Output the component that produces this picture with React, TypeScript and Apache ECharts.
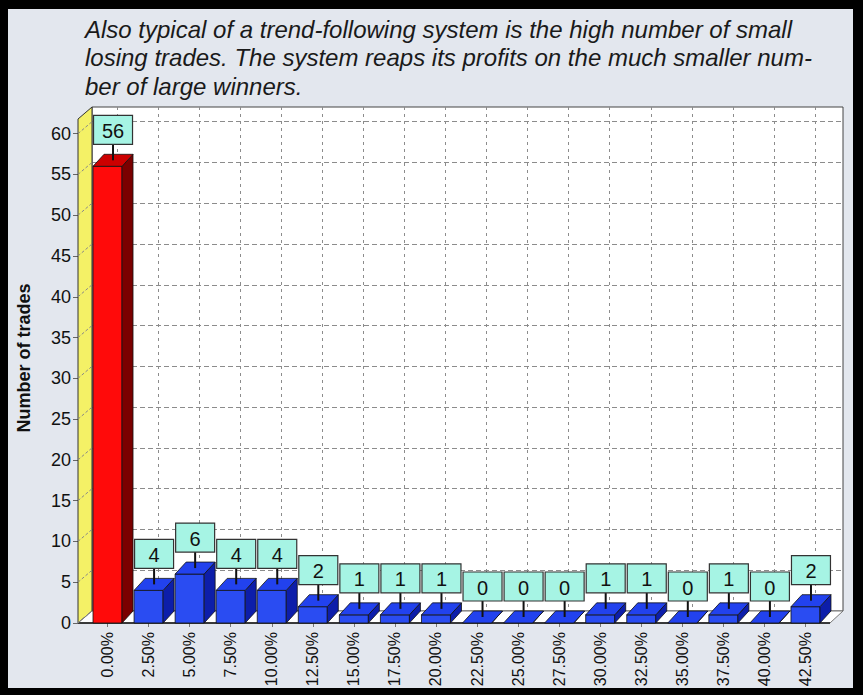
import React, { useEffect, useRef } from "react";
import * as echarts from "echarts";

// ---- data ----
const categories = [
  "0.00%", "2.50%", "5.00%", "7.50%", "10.00%", "12.50%", "15.00%", "17.50%", "20.00%",
  "22.50%", "25.00%", "27.50%", "30.00%", "32.50%", "35.00%", "37.50%", "40.00%", "42.50%",
];
const tradeCounts = [56, 4, 6, 4, 4, 2, 1, 1, 1, 0, 0, 0, 1, 1, 0, 1, 0, 2];
const yTicks = [0, 5, 10, 15, 20, 25, 30, 35, 40, 45, 50, 55, 60];
const titleLines = [
  "Also typical of a trend-following system is the high number of small",
  "losing trades. The system reaps its profits on the much smaller num-",
  "ber of large winners.",
];
const yAxisName = "Number of trades";
const LOSS_CATEGORY = "0.00%";

// ---- layout / style constants ----
const W = 863;
const H = 695;
const Y_MAX = 61.8;
const FONT = "'Liberation Sans', Arial, Helvetica, sans-serif";
const AXIS_X = 78; // front y axis
const WALL_DX = 14;
const DEPTH_DY = 12;
const BAR_HALF = 14.5;
const BAR_DX = 11;
const BACK_RIGHT = W - 20;

const BLUE = { front: "#2a4cf2", top: "#2242ee", side: "#0d1eaa" };
const RED = { front: "#ff0a0a", top: "#cc0000", side: "#7a0000" };

export default function App() {
  const ref = useRef<HTMLDivElement>(null);

  useEffect(() => {
    if (!ref.current) return;
    const chart = echarts.init(ref.current, undefined, { renderer: "svg" });

    const barData = tradeCounts.map((v, i) => [i, v]);

    const option: any = {
      animation: false,
      backgroundColor: "transparent",
      title: {
        text: titleLines.join("\n"),
        left: 85,
        top: 15,
        padding: 0,
        textStyle: {
          fontFamily: FONT,
          fontStyle: "italic",
          fontWeight: "normal",
          fontSize: 24,
          lineHeight: 28.5,
          color: "#1a1a1a",
        },
      },
      grid: [
        { left: 92, right: 20, top: 107, bottom: 84, show: true, backgroundColor: "#ffffff", borderColor: "#444", borderWidth: 1 },
        { left: 117, right: 48, top: 107, bottom: 84 },
        { left: 87, right: 37, top: 119, bottom: 72 },
      ],
      xAxis: [
        {
          gridIndex: 0, type: "category", data: categories,
          axisLine: { show: false }, axisTick: { show: false }, axisLabel: { show: false }, splitLine: { show: false },
        },
        {
          gridIndex: 1, type: "category", data: categories, boundaryGap: false,
          axisLine: { show: false }, axisTick: { show: false }, axisLabel: { show: false },
          splitLine: { show: true, interval: 0, lineStyle: { color: "#8c8c8c", type: [3, 4], width: 1 } },
        },
        {
          gridIndex: 2, type: "category", data: categories,
          axisLine: { show: false },
          axisTick: { show: true, alignWithLabel: true, length: 4, lineStyle: { color: "#777" } },
          axisLabel: { rotate: 90, fontSize: 16, margin: 9, color: "#111", fontFamily: FONT, interval: 0 },
          splitLine: { show: false },
        },
      ],
      yAxis: [
        {
          gridIndex: 0, type: "value", min: 0, max: Y_MAX, interval: 5,
          axisLine: { show: false }, axisTick: { show: false }, axisLabel: { show: false },
          splitLine: { show: true, showMinLine: false, showMaxLine: false, lineStyle: { color: "#8c8c8c", type: [5, 3], width: 1 } },
        },
        { gridIndex: 1, type: "value", min: 0, max: Y_MAX, show: false },
        {
          gridIndex: 2, type: "value", min: 0, max: Y_MAX, interval: 5, offset: 9,
          axisLine: { show: false },
          axisTick: { show: true, length: 5, customValues: yTicks, lineStyle: { color: "#666" } },
          axisLabel: { customValues: yTicks, fontSize: 18, margin: 7, color: "#111", fontFamily: FONT },
          splitLine: { show: false },
          name: yAxisName,
          nameLocation: "middle",
          nameGap: 45,
          nameTextStyle: { fontWeight: "bold", fontSize: 18, color: "#111", fontFamily: FONT, padding: [0, 0, 0, 26] },
        },
      ],
      series: [
        {
          // wall and floor
          type: "custom",
          xAxisIndex: 2, yAxisIndex: 2, z: 1, silent: true,
          data: [[0, 0]],
          renderItem: (params: any, api: any) => {
            const cs = params.coordSys;
            const y0 = api.coord([0, 0])[1];
            const yTop = cs.y;
            const frontRight = cs.x + cs.width + 4;
            return {
              type: "group",
              children: [
                {
                  type: "polygon",
                  shape: { points: [[AXIS_X, y0], [AXIS_X, yTop], [AXIS_X + WALL_DX, yTop - DEPTH_DY], [AXIS_X + WALL_DX, y0 - DEPTH_DY]] },
                  style: { fill: "#f4f166", stroke: "#333", lineWidth: 1 },
                },
                {
                  type: "polygon",
                  shape: { points: [[AXIS_X, y0], [frontRight, y0], [BACK_RIGHT, y0 - DEPTH_DY], [AXIS_X + WALL_DX, y0 - DEPTH_DY]] },
                  style: { fill: "#ffffff", stroke: "#777", lineWidth: 1 },
                },
                {
                  type: "line",
                  shape: { x1: AXIS_X, y1: y0, x2: frontRight, y2: y0 },
                  style: { stroke: "#111", lineWidth: 1.5 },
                },
              ],
            };
          },
        },
        {
          // tick diagonals across the wall
          type: "custom",
          xAxisIndex: 2, yAxisIndex: 2, z: 1, silent: true,
          data: yTicks.map((v) => [0, v]),
          encode: { x: 0, y: 1 },
          renderItem: (_params: any, api: any) => {
            const y = api.coord([0, api.value(1)])[1];
            return {
              type: "line",
              shape: { x1: AXIS_X, y1: y, x2: AXIS_X + WALL_DX, y2: y - DEPTH_DY },
              style: { stroke: "#888", lineWidth: 1, lineDash: [3, 2] },
            };
          },
        },
        {
          // 3D bars
          type: "custom",
          xAxisIndex: 2, yAxisIndex: 2, z: 2,
          data: barData,
          encode: { x: 0, y: 1 },
          renderItem: (_params: any, api: any) => {
            const idx = api.value(0);
            const v = api.value(1);
            const [cx, yt] = api.coord([idx, v]);
            const y0 = api.coord([idx, 0])[1];
            const c = categories[idx] === LOSS_CATEGORY ? RED : BLUE;
            const l = cx - BAR_HALF;
            const r = cx + BAR_HALF;
            const children: any[] = [];
            if (y0 - yt > 0.5) {
              children.push({
                type: "rect",
                shape: { x: l, y: yt, width: r - l, height: y0 - yt },
                style: { fill: c.front, stroke: "#111", lineWidth: 0.8 },
              });
            }
            children.push({
              type: "polygon",
              shape: { points: [[r, yt], [r + BAR_DX, yt - DEPTH_DY], [r + BAR_DX, y0 - DEPTH_DY], [r, y0]] },
              style: { fill: c.side, stroke: "#111", lineWidth: 0.8 },
            });
            children.push({
              type: "polygon",
              shape: { points: [[l, yt], [r, yt], [r + BAR_DX, yt - DEPTH_DY], [l + BAR_DX, yt - DEPTH_DY]] },
              style: { fill: c.top, stroke: "#111", lineWidth: 0.8 },
            });
            return { type: "group", children };
          },
        },
        {
          // value callouts
          type: "custom",
          xAxisIndex: 2, yAxisIndex: 2, z: 3,
          data: barData,
          encode: { x: 0, y: 1 },
          renderItem: (_params: any, api: any) => {
            const idx = api.value(0);
            const v = api.value(1);
            const [cx, yt] = api.coord([idx, v]);
            const sx = cx + BAR_DX / 2;
            const anchorY = yt - DEPTH_DY / 2;
            const boxW = 39;
            const boxH = 29;
            const boxBottom = yt - 22;
            return {
              type: "group",
              children: [
                {
                  type: "line",
                  shape: { x1: sx, y1: boxBottom, x2: sx, y2: anchorY },
                  style: { stroke: "#111", lineWidth: 2 },
                },
                {
                  type: "rect",
                  shape: { x: sx - boxW / 2, y: boxBottom - boxH, width: boxW, height: boxH },
                  style: { fill: "#a6f4e4", stroke: "#333", lineWidth: 1.2 },
                },
                {
                  type: "text",
                  style: {
                    text: String(v),
                    x: sx,
                    y: boxBottom - boxH / 2 + 1,
                    align: "center",
                    verticalAlign: "middle",
                    fontSize: 20,
                    fontFamily: FONT,
                    fill: "#111",
                  },
                },
              ],
            };
          },
        },
      ],
    };

    chart.setOption(option);
    return () => chart.dispose();
  }, []);

  return (
    <div style={{ position: "fixed", left: 0, top: 0, width: W, height: H, background: "#000" }}>
      <div style={{ position: "absolute", left: 8, top: 9, width: 845, height: 679, background: "#e3e7ee" }} />
      <div ref={ref} style={{ position: "absolute", left: 0, top: 0, width: W, height: H }} />
    </div>
  );
}
